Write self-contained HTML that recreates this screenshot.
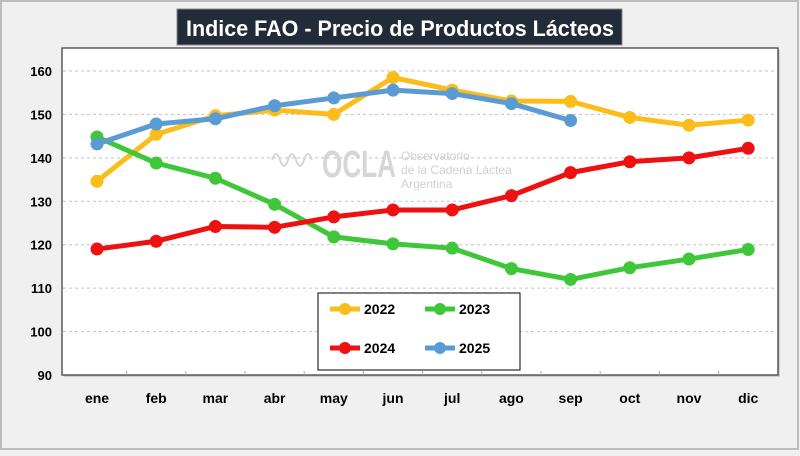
<!DOCTYPE html>
<html><head><meta charset="utf-8"><style>
body{margin:0;width:800px;height:451px;background:#f0f0f0;overflow:hidden;font-family:"Liberation Sans",sans-serif}
</style></head><body>
<svg width="800" height="451">
<rect x="1" y="1" width="797" height="448" fill="#f0f0f0" stroke="#bdbdbd" stroke-width="2"/>
<rect x="64" y="50" width="716" height="327" fill="#cfcfcf"/>
<rect x="62" y="48" width="716" height="327" fill="#fff" stroke="#333" stroke-width="1.2"/>
<rect x="177" y="9" width="445" height="36" fill="#222b38" stroke="#888"/>
<text x="400" y="36" text-anchor="middle" font-size="22" font-weight="bold" fill="#fff" textLength="428" lengthAdjust="spacingAndGlyphs">Indice FAO - Precio de Productos Lácteos</text>
<g id="grid"></g>
<g fill="#d0d0d0">
<text x="322" y="177" font-size="38" font-weight="bold" fill="#d6d6d6" textLength="74" lengthAdjust="spacingAndGlyphs">OCLA</text>
<text x="401" y="160" font-size="12" fill="#d0d0d0">Observatorio</text>
<text x="401" y="174" font-size="12" fill="#d0d0d0">de la Cadena Láctea</text>
<text x="401" y="188" font-size="12" fill="#d0d0d0">Argentina</text>
<path d="M272 160 q4 -12 8 0 q4 12 8 0 q4 -12 8 0 q4 12 8 0 q4 -12 8 0" fill="none" stroke="#d6d6d6" stroke-width="2"/>
</g>
<g id="series"></g>
<rect x="318" y="293" width="202" height="77" fill="#fff" stroke="#000" stroke-width="1"/>
<g id="legend"></g>
</svg>
<script>
const months=["ene","feb","mar","abr","may","jun","jul","ago","sep","oct","nov","dic"];
const yTicks=[90,100,110,120,130,140,150,160];
const s2022=[134.6,145.4,149.7,151,150,158.5,155.6,153.1,153,149.3,147.5,148.7];
const s2023=[144.8,138.8,135.3,129.3,121.8,120.2,119.2,114.5,112,114.7,116.7,118.9];
const s2024=[119,120.8,124.2,124,126.4,128,128,131.3,136.6,139.1,140,142.2];
const s2025=[143.2,147.8,149,152,153.8,155.6,154.8,152.5,148.6];
const NS="http://www.w3.org/2000/svg";
const X=i=>97+i*59.2;
const Y=v=>375-(v-90)*4.343;
function mk(t,a,p){const e=document.createElementNS(NS,t);for(const k in a)e.setAttribute(k,a[k]);p.appendChild(e);return e;}
const g=document.getElementById('grid');
yTicks.forEach(v=>{
 if(v>90){const l=mk('line',{x1:63,x2:777,y1:Y(v),y2:Y(v),stroke:'#c4c4c4','stroke-dasharray':'3,3'},g);
 
 }
 const t=mk('text',{x:52,y:Y(v)+5,'text-anchor':'end','font-size':13,'font-weight':'bold'},g);t.textContent=v;
 
 
});
months.forEach((m,i)=>{const t=mk('text',{x:X(i),y:403,'text-anchor':'middle','font-size':14,'font-weight':'bold'},g);t.textContent=m;
 
 
 if(i>0){const tk=mk('line',{x1:X(i)-29.6,x2:X(i)-29.6,y1:371,y2:375,stroke:'#aaa'},g);
 
 }
});
const S=document.getElementById('series');
const list=[["2022",s2022,"#fbbd19"],["2023",s2023,"#3fc73a"],["2024",s2024,"#ee1111"],["2025",s2025,"#5b9bd5"]];
list.forEach(([n,d,c])=>{
 const gg=mk('g',{},S);
 
 
 mk('polyline',{points:d.map((v,i)=>X(i)+','+Y(v)).join(' '),fill:'none',stroke:c,'stroke-width':5,'stroke-linejoin':'round'},gg);
 d.forEach((v,i)=>{const p=mk('circle',{cx:X(i),cy:Y(v),r:6.5,fill:c},gg);
 
 });
});
const L=document.getElementById('legend');
const pos=[[330,309],[425,309],[330,348],[425,348]];
list.forEach(([n,d,c],k)=>{const [x,y]=pos[k];
 const e=mk('g',{},L);
 
 
 mk('line',{x1:x,x2:x+30,y1:y,y2:y,stroke:c,'stroke-width':5},e);
 mk('circle',{cx:x+15,cy:y,r:6,fill:c},e);
 const t=mk('text',{x:x+34,y:y+5,'font-size':14,'font-weight':'bold'},e);t.textContent=n;});
</script>
</body></html>
